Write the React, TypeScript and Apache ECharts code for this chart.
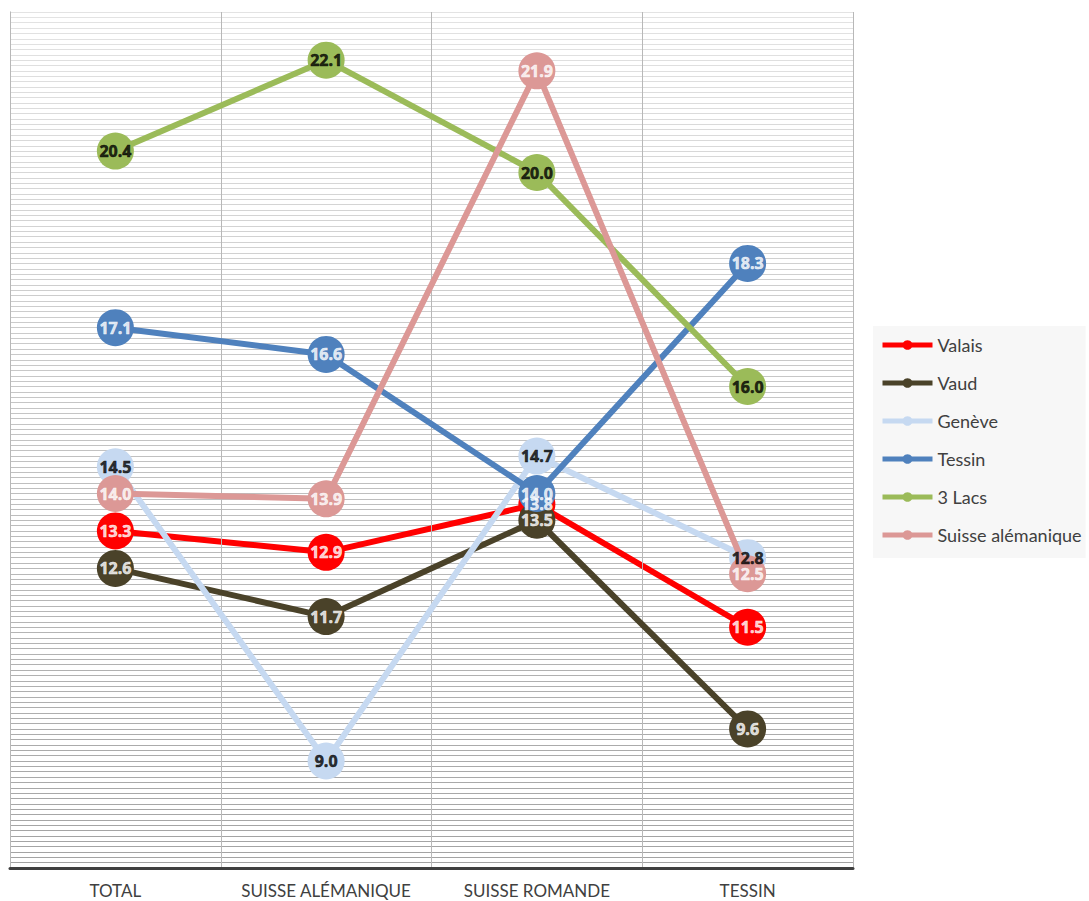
import React, { useEffect, useRef } from "react";
import * as echarts from "echarts";

const categories = ["TOTAL", "SUISSE ALÉMANIQUE", "SUISSE ROMANDE", "TESSIN"];
const seriesNames = ["Valais", "Vaud", "Genève", "Tessin", "3 Lacs", "Suisse alémanique"];
const valais = [13.3, 12.9, 13.8, 11.5];
const vaud = [12.6, 11.7, 13.5, 9.6];
const geneve = [14.5, 9.0, 14.7, 12.8];
const tessin = [17.1, 16.6, 14.0, 18.3];
const lacs = [20.4, 22.1, 20.0, 16.0];
const suisseAlem = [14.0, 13.9, 21.9, 12.5];
const yMin = 7;
const yMax = 23;
const yStep = 0.1;

const seriesData = [valais, vaud, geneve, tessin, lacs, suisseAlem];
const colors = ["#ff0000", "#4a4229", "#c6d9f1", "#4f81bd", "#9bbb59", "#dc9896"];
const labelColors = ["#ffffff", "#ffffff", "#000000", "#ffffff", "#000000", "#ffffff"];

// gridline shading: light at top, darker toward the bottom (ticks are counted from min = bottom)
const nLines = Math.round((yMax - yMin) / yStep) + 1;
const gridColors: string[] = [];
for (let i = 0; i < nLines; i++) {
  const t = i / (nLines - 1); // 0 bottom, 1 top
  const v = Math.round(162 + (227 - 162) * t);
  gridColors.push(`rgb(${v},${v},${v})`);
}

const FONT = "Lato, 'Open Sans', sans-serif";
const LABEL_FONT = "'Open Sans', Lato, sans-serif";

export default function App() {
  const ref = useRef<HTMLDivElement>(null);
  useEffect(() => {
    if (!ref.current) return;
    const chart = echarts.init(ref.current, undefined, { renderer: "svg" });
    const lineSeries = seriesNames.map((name, i) => ({
      name,
      type: "line",
      data: seriesData[i],
      color: colors[i],
      lineStyle: { width: 6, color: colors[i] },
      symbol: "circle",
      symbolSize: 37,
      itemStyle: { color: colors[i] },
      z: 2 + i,
      label: { show: false },
    }));
    const labelSeries = seriesNames.map((name, i) => ({
      name: name + " (label)",
      type: "scatter",
      data: seriesData[i],
      symbol: "circle",
      symbolSize: 1,
      itemStyle: { color: "rgba(0,0,0,0)" },
      z: 20,
      silent: true,
      label: {
        show: true,
        position: "inside",
        color: labelColors[i],
        fontWeight: "bold",
        fontSize: 16,
        fontFamily: LABEL_FONT,
        textBorderWidth: 0.6,
        textBorderColor: labelColors[i],
        formatter: (p: any) => Number(p.value).toFixed(1),
      },
      labelLayout: { hideOverlap: false },
    }));
    chart.setOption({
      animation: false,
      backgroundColor: "#ffffff",
      textStyle: { fontFamily: FONT },
      legend: {
        orient: "vertical",
        left: 873,
        top: 326,
        backgroundColor: "#f7f7f7",
        padding: [10, 4, 14, 7],
        itemWidth: 50,
        itemHeight: 12,
        itemGap: 20,
        data: seriesNames,
        lineStyle: { width: 5 },
        textStyle: { fontSize: 18, color: "#404040", fontFamily: FONT },
      },
      grid: { left: 10, right: 236, top: 12, bottom: 33, containLabel: false },
      xAxis: {
        type: "category",
        data: categories,
        boundaryGap: true,
        axisLine: { show: true, lineStyle: { color: "#404040", width: 3 } },
        axisTick: { show: false },
        axisLabel: { interval: 0, color: "#404040", fontSize: 17, margin: 14, fontFamily: FONT },
        splitLine: { show: true, interval: 0, lineStyle: { color: "#b8b8b8", width: 1 } },
        z: 3,
      },
      yAxis: {
        type: "value",
        min: yMin,
        max: yMax,
        interval: yStep,
        axisLabel: { show: false },
        axisTick: { show: false },
        axisLine: { show: true, lineStyle: { color: "#a0a0a0", width: 1 } },
        splitLine: { show: true, lineStyle: { color: gridColors, width: 1 } },
      },
      series: [...lineSeries, ...labelSeries],
    });
    return () => chart.dispose();
  }, []);
  return <div ref={ref} style={{ width: 1089, height: 901, position: "absolute", left: 0, top: 0 }} />;
}
